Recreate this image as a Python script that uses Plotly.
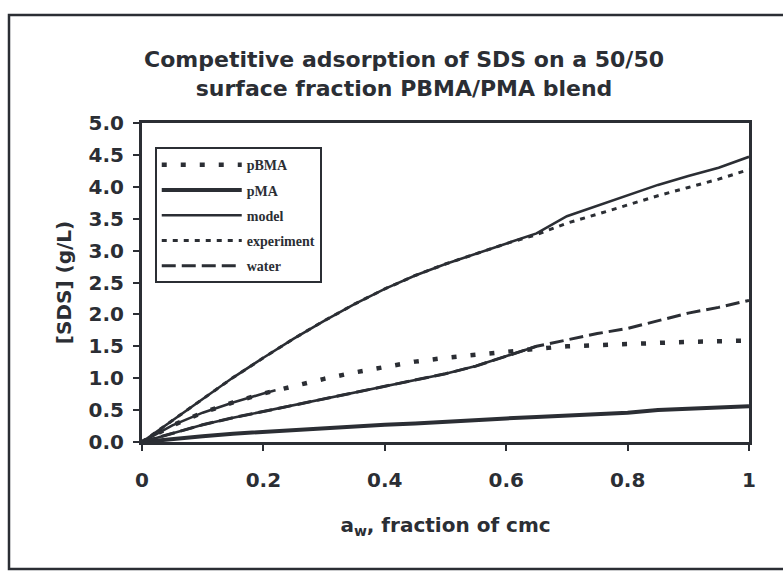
import plotly.graph_objects as go

# ---------------- data ----------------
x_vals = [0, 0.05, 0.1, 0.15, 0.2, 0.25, 0.3, 0.35, 0.4, 0.45, 0.5,
          0.55, 0.6, 0.65, 0.7, 0.75, 0.8, 0.85, 0.9, 0.95, 1.0]

pbma = [0, 0.26, 0.46, 0.62, 0.76, 0.88, 0.99, 1.09, 1.18, 1.26, 1.32,
        1.37, 1.42, 1.46, 1.50, 1.52, 1.54, 1.56, 1.57, 1.58, 1.59]

pma = [0, 0.05, 0.09, 0.13, 0.16, 0.18, 0.21, 0.24, 0.27, 0.29, 0.32,
       0.35, 0.37, 0.39, 0.41, 0.43, 0.46, 0.50, 0.52, 0.54, 0.56]

experiment = [0, 0.34, 0.68, 1.01, 1.32, 1.62, 1.90, 2.16, 2.40, 2.61, 2.79,
              2.95, 3.11, 3.25, 3.43, 3.57, 3.72, 3.86, 3.99, 4.12, 4.27]

water = [0, 0.14, 0.27, 0.38, 0.48, 0.58, 0.68, 0.78, 0.88, 0.98, 1.07,
         1.19, 1.35, 1.50, 1.60, 1.70, 1.78, 1.90, 2.02, 2.11, 2.22]

# model curves: total, pBMA part and water part
model_total_x = x_vals
model_total = [0, 0.34, 0.68, 1.01, 1.32, 1.62, 1.90, 2.16, 2.40, 2.61, 2.79,
               2.95, 3.11, 3.27, 3.54, 3.70, 3.87, 4.03, 4.17, 4.30, 4.47]
model_pbma_x = [0, 0.05, 0.1, 0.15, 0.2, 0.22]
model_pbma = [0, 0.26, 0.46, 0.62, 0.76, 0.81]
model_water_x = [0, 0.05, 0.1, 0.15, 0.2, 0.25, 0.3, 0.35, 0.4, 0.45, 0.5,
                 0.55, 0.6, 0.65]
model_water = [0, 0.14, 0.27, 0.38, 0.48, 0.58, 0.68, 0.78, 0.88, 0.98, 1.07,
               1.19, 1.35, 1.50]

x_ticks = [0, 0.2, 0.4, 0.6, 0.8, 1]
x_tick_text = ["0", "0.2", "0.4", "0.6", "0.8", "1"]
y_ticks = [0, 0.5, 1.0, 1.5, 2.0, 2.5, 3.0, 3.5, 4.0, 4.5, 5.0]

title_text = "Competitive adsorption of SDS on a 50/50<br>surface fraction PBMA/PMA blend"
x_title = "a<sub>w</sub>, fraction of cmc"
y_title = "[SDS] (g/L)"

# ---------------- figure ----------------
INK = "#2b2e34"
SANS = "DejaVu Sans, Liberation Sans, Arial, sans-serif"
SERIF = "Liberation Serif, Times New Roman, serif"

model_x = model_total_x + [None] + model_pbma_x + [None] + model_water_x
model_y = model_total + [None] + model_pbma + [None] + model_water

fig = go.Figure()
fig.add_trace(go.Scatter(x=x_vals, y=pbma, name="pBMA", mode="lines",
                         legendgroup="g1",
                         line=dict(color=INK, width=4.5, dash="5px,14px")))
fig.add_trace(go.Scatter(x=x_vals, y=pma, name="pMA", mode="lines",
                         legendgroup="g2",
                         line=dict(color=INK, width=4)))
fig.add_trace(go.Scatter(x=model_x, y=model_y, name="model", mode="lines",
                         legendgroup="g3", connectgaps=False,
                         line=dict(color=INK, width=2.6)))
fig.add_trace(go.Scatter(x=x_vals, y=experiment, name="experiment", mode="lines",
                         legendgroup="g4",
                         line=dict(color=INK, width=3, dash="5px,6px")))
fig.add_trace(go.Scatter(x=x_vals, y=water, name="water", mode="lines",
                         legendgroup="g5",
                         line=dict(color=INK, width=3, dash="14px,6px")))

tick_font = dict(family=SANS, size=20, color=INK, weight="bold")
title_font = dict(family=SANS, size=20, color=INK, weight="bold")

fig.update_layout(
    width=783, height=571,
    margin=dict(l=142, r=34, t=123, b=129),
    paper_bgcolor="white", plot_bgcolor="white",
    showlegend=True,
    title=dict(text=title_text, x=0.516, xanchor="center",
               y=0.882, yanchor="bottom", yref="container",
               font=dict(family=SANS, size=22, color=INK, weight="bold")),
    legend=dict(x=0.021, y=0.924, xanchor="left", yanchor="top",
                bgcolor="white", bordercolor=INK, borderwidth=2,
                itemwidth=80, tracegroupgap=4, traceorder="grouped",
                font=dict(family=SERIF, size=14, color=INK, weight="bold")),
    xaxis=dict(range=[0, 1], tickvals=x_ticks, ticktext=x_tick_text,
               showgrid=False, zeroline=False,
               showline=True, linecolor=INK, linewidth=3, mirror=True,
               ticks="outside", ticklen=6, tickwidth=1.5, tickcolor=INK,
               ticklabelstandoff=12,
               tickfont=tick_font,
               title=dict(text=x_title, standoff=27, font=title_font)),
    yaxis=dict(range=[0, 5], tickvals=y_ticks, tickformat=".1f",
               showgrid=False, zeroline=False,
               showline=True, linecolor=INK, linewidth=3, mirror=True,
               ticks="outside", ticklen=6, tickwidth=1.5, tickcolor=INK,
               ticklabelstandoff=5,
               tickfont=tick_font,
               title=dict(text=y_title, standoff=12, font=title_font)),
)

# outer border of the scanned chart frame
fig.add_shape(type="rect", xref="paper", yref="paper",
              x0=(9 - 142) / 607, x1=(800 - 142) / 607,
              y0=(442 - 569) / 319, y1=(442 - 15) / 319,
              line=dict(color=INK, width=2.5), fillcolor="rgba(0,0,0,0)",
              layer="below")

fig.write_html("out.html")
